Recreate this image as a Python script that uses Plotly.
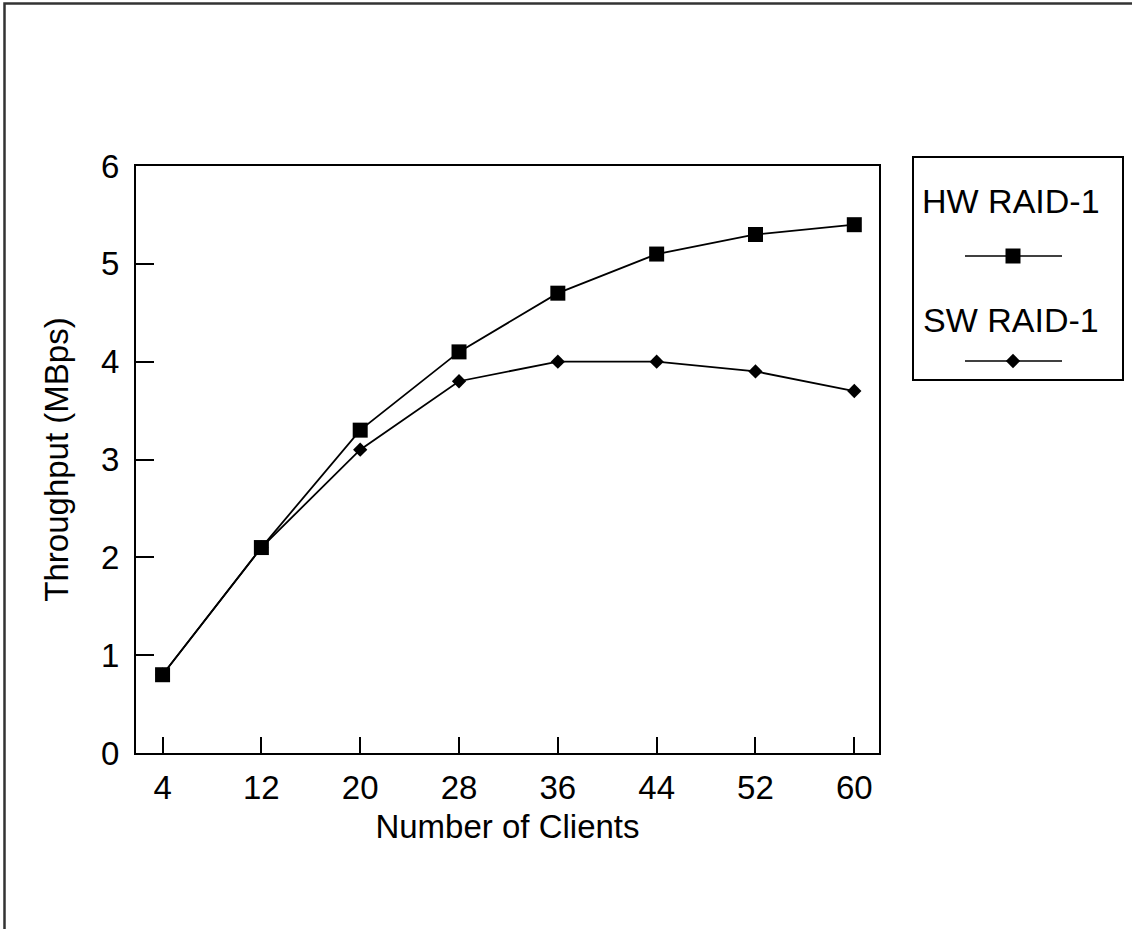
import plotly.graph_objects as go

# ---- data ----
clients = [4, 12, 20, 28, 36, 44, 52, 60]
hw_raid1 = [0.8, 2.1, 3.3, 4.1, 4.7, 5.1, 5.3, 5.4]
sw_raid1 = [0.8, 2.1, 3.1, 3.8, 4.0, 4.0, 3.9, 3.7]
series_names = ["HW RAID-1", "SW RAID-1"]
y_ticks = [0, 1, 2, 3, 4, 5, 6]

W, H = 1132, 929
FONT = "Liberation Sans, Arial, Helvetica, sans-serif"
FS = 33
FS_LEG = 34

def px(x):
    return x / W

def py(y):
    return 1 - y / H

fig = go.Figure()

fig.add_trace(go.Scatter(
    x=clients, y=hw_raid1, name=series_names[0], mode="lines+markers",
    line=dict(color="black", width=1.8),
    marker=dict(symbol="square", size=15, color="black"),
    showlegend=False,
))
fig.add_trace(go.Scatter(
    x=clients, y=sw_raid1, name=series_names[1], mode="lines+markers",
    line=dict(color="black", width=1.8),
    marker=dict(symbol="diamond", size=11, color="black"),
    showlegend=False,
))

# ---- custom legend (text above sample) on a full-figure pixel axis ----
leg_line_x = [965, 1062]
leg_mark_x = [1013]
for name, sym, msz, ty, ly in [
    (series_names[0], "square", 15, 201, 256),
    (series_names[1], "diamond", 11, 320, 361),
]:
    fig.add_trace(go.Scatter(
        x=leg_line_x, y=[ly, ly], xaxis="x2", yaxis="y2", mode="lines",
        line=dict(color="black", width=1.6),
        showlegend=False, hoverinfo="skip",
    ))
    fig.add_trace(go.Scatter(
        x=leg_mark_x, y=[ly], xaxis="x2", yaxis="y2", mode="markers",
        marker=dict(symbol=sym, size=msz, color="black"),
        showlegend=False, hoverinfo="skip",
    ))
    fig.add_annotation(
        x=px(1011), y=py(ty), xref="paper", yref="paper", text=name,
        showarrow=False, xanchor="center", yanchor="middle",
        font=dict(family=FONT, size=FS_LEG, color="black"),
    )

fig.add_shape(type="rect", xref="paper", yref="paper",
              x0=px(913), x1=px(1123), y0=py(380), y1=py(157),
              line=dict(color="black", width=2))
# outer frame
fig.add_shape(type="rect", xref="paper", yref="paper",
              x0=px(4.5), x1=1.05, y0=-0.05, y1=py(3.5),
              line=dict(color="#333333", width=2.5))

axis_common = dict(
    showline=True, linecolor="black", linewidth=2, mirror=True,
    ticks="inside", tickcolor="black", tickwidth=2,
    showgrid=False, zeroline=False, automargin=False,
    tickfont=dict(family=FONT, size=FS, color="black"),
)

fig.update_layout(
    template="none",
    width=W, height=H,
    margin=dict(l=0, r=0, t=0, b=0, pad=0),
    paper_bgcolor="white", plot_bgcolor="rgba(0,0,0,0)",
    showlegend=False,
    xaxis=dict(
        domain=[px(136), px(879)], range=[1.85, 62.0],
        tickmode="array", tickvals=clients, ticklen=16,
        ticklabelstandoff=4,
        title=dict(text="Number of Clients", standoff=10,
                   font=dict(family=FONT, size=FS, color="black")),
        **axis_common,
    ),
    yaxis=dict(
        domain=[py(753), py(166)], range=[0, 6],
        tickmode="array", tickvals=y_ticks, ticklen=18,
        ticklabelstandoff=8,
        title=dict(text="Throughput (MBps)", standoff=22,
                   font=dict(family=FONT, size=FS, color="black")),
        **axis_common,
    ),
    xaxis2=dict(domain=[0, 1], range=[0, W], visible=False, anchor="y2",
                fixedrange=True, automargin=False),
    yaxis2=dict(domain=[0, 1], range=[H, 0], visible=False, anchor="x2",
                fixedrange=True, automargin=False),
)

fig.write_html(
    "out.html",
    config={"displayModeBar": False},
    post_script="document.body.style.margin='0';document.body.style.padding='0';",
)
